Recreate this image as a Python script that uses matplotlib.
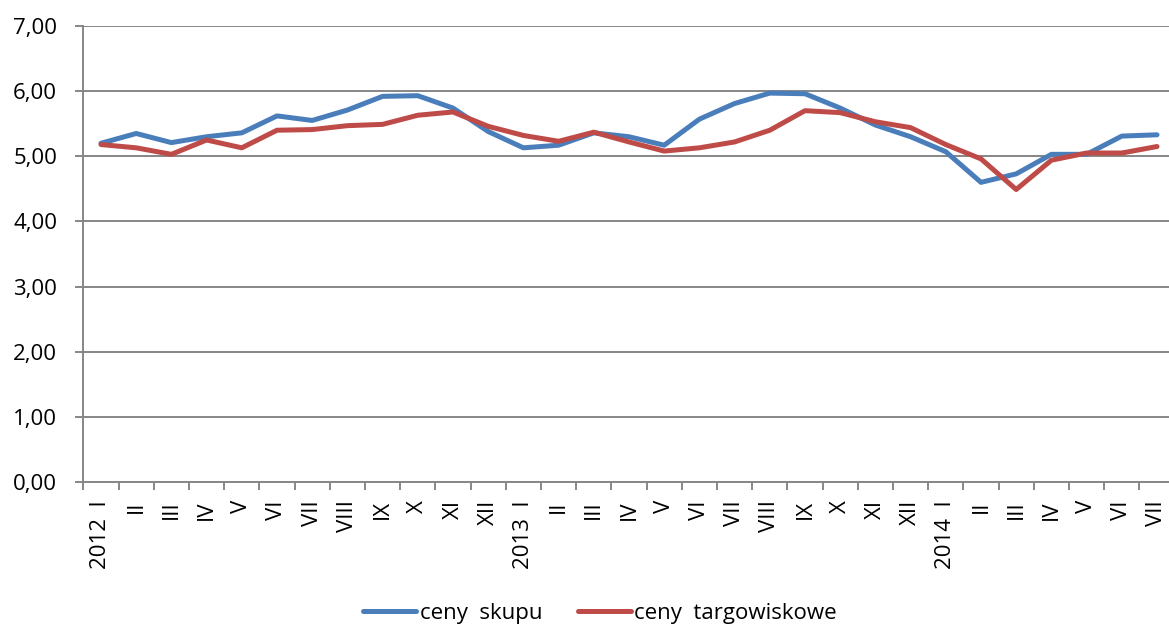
import numpy as np
import matplotlib
matplotlib.use('Agg')
import matplotlib.pyplot as plt
from matplotlib.ticker import FixedLocator, FuncFormatter

plt.rcParams['font.family'] = ['Open Sans', 'DejaVu Sans']

months = ['I', 'II', 'III', 'IV', 'V', 'VI', 'VII', 'VIII', 'IX', 'X', 'XI', 'XII']
tick_labels = (['2012  I'] + months[1:] + ['2013  I'] + months[1:] +
               ['2014  I'] + months[1:7])

ceny_skupu = [5.20, 5.35, 5.21, 5.30, 5.36, 5.62, 5.55, 5.71, 5.92, 5.93, 5.74, 5.38,
              5.13, 5.17, 5.36, 5.30, 5.17, 5.57, 5.81, 5.97, 5.96, 5.74, 5.48, 5.30,
              5.07, 4.60, 4.73, 5.03, 5.03, 5.31, 5.33]
ceny_targowiskowe = [5.18, 5.13, 5.03, 5.25, 5.13, 5.40, 5.41, 5.47, 5.49, 5.63, 5.68, 5.46,
                     5.32, 5.23, 5.37, 5.22, 5.08, 5.13, 5.22, 5.40, 5.70, 5.67, 5.53, 5.44,
                     5.18, 4.96, 4.49, 4.94, 5.05, 5.05, 5.15]

blue = '#4A7EBB'
red = '#BE4B48'
grid_col = '#868686'

fig = plt.figure(figsize=(11.69, 6.26), dpi=100)
W, H = 1169, 626
x0, x1 = 83.4, 83.4 + 31 * 35.2
ytop, ybot = 26, 482
ax = fig.add_axes([x0 / W, 1 - ybot / H, (x1 - x0) / W, (ybot - ytop) / H])

x = np.arange(len(ceny_skupu))
ax.plot(x, ceny_skupu, color=blue, lw=3.6, solid_joinstyle='round',
        solid_capstyle='round', label='ceny  skupu', zorder=3)
ax.plot(x, ceny_targowiskowe, color=red, lw=3.6, solid_joinstyle='round',
        solid_capstyle='round', label='ceny  targowiskowe', zorder=3)

ax.set_xlim(-0.5, 30.5)
ax.set_ylim(0, 7)

ax.set_yticks(np.arange(0, 8, 1))
ax.yaxis.set_major_formatter(FuncFormatter(lambda v, p: ('%.2f' % v).replace('.', ',')))
ax.grid(axis='y', color=grid_col, lw=1.4, zorder=0)
ax.tick_params(axis='y', length=6, width=1.4, color=grid_col, pad=13,
               labelsize=16)

ax.set_xticks(x)
ax.set_xticklabels(tick_labels, rotation=90, fontsize=16, va='top', ha='center')
ax.xaxis.set_minor_locator(FixedLocator(np.arange(-0.5, 31, 1)))
ax.tick_params(axis='x', which='major', length=0, pad=13)
ax.tick_params(axis='x', which='minor', length=6, width=1.4, color=grid_col)

for s in ['top', 'right']:
    ax.spines[s].set_visible(False)
for s in ['left', 'bottom']:
    ax.spines[s].set_color(grid_col)
    ax.spines[s].set_linewidth(1.4)

fig.legend(loc='center', bbox_to_anchor=(600 / W, 1 - 613 / H), ncol=2,
           frameon=False, fontsize=16, handlelength=2.4, handletextpad=0.15,
           columnspacing=1.6)

fig.savefig('out.png', dpi=100)
